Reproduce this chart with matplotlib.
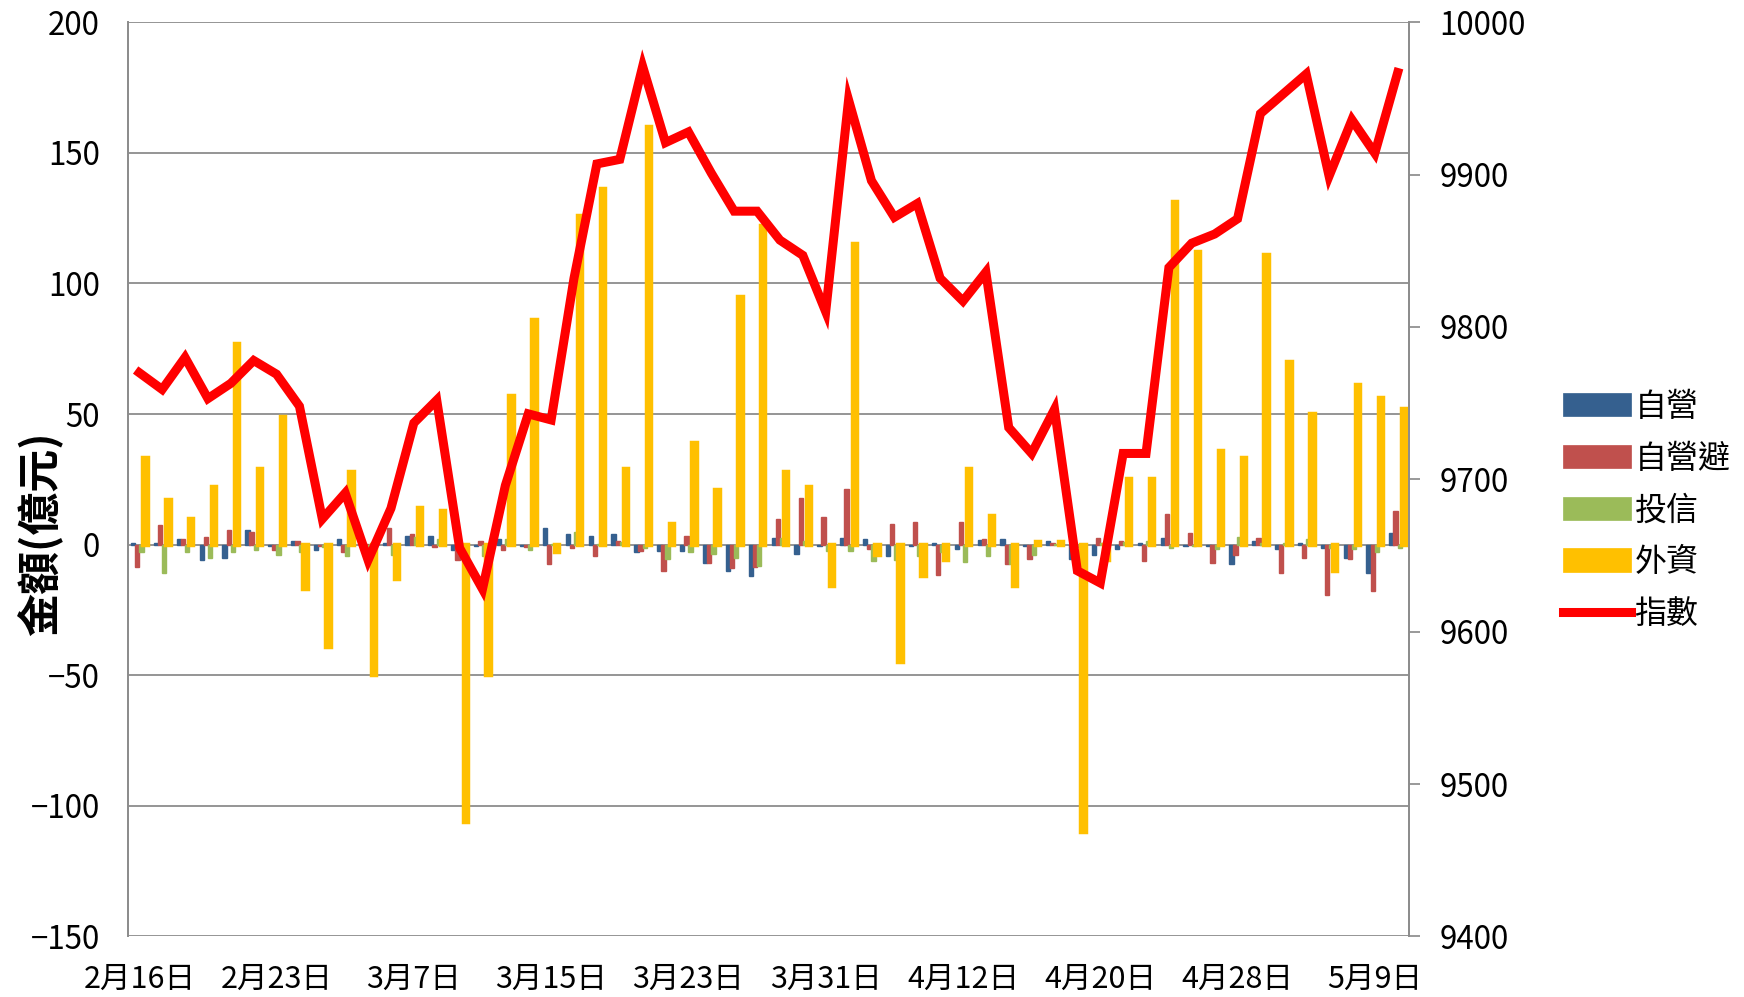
import matplotlib
matplotlib.use('Agg')
import matplotlib.pyplot as plt
import numpy as np

plt.rcParams['font.family'] = ['Noto Sans CJK TC', 'DejaVu Sans']

# trading days 2017/2/16 - 2017/5/10
dates = ['2月16日', '2月17日', '2月18日', '2月20日', '2月21日', '2月22日',
         '2月23日', '2月24日', '3月1日', '3月2日', '3月3日', '3月6日',
         '3月7日', '3月8日', '3月9日', '3月10日', '3月13日', '3月14日',
         '3月15日', '3月16日', '3月17日', '3月20日', '3月21日', '3月22日',
         '3月23日', '3月24日', '3月27日', '3月28日', '3月29日', '3月30日',
         '3月31日', '4月5日', '4月6日', '4月7日', '4月10日', '4月11日',
         '4月12日', '4月13日', '4月14日', '4月17日', '4月18日', '4月19日',
         '4月20日', '4月21日', '4月24日', '4月25日', '4月26日', '4月27日',
         '4月28日', '5月2日', '5月3日', '5月4日', '5月5日', '5月8日',
         '5月9日', '5月10日']

dealer = [0.5, 0.5, 2, -6, -5, 5.7, -0.5, 1.3, -2, 2, 0.3, 0.5, 3.3, 3.3,
          -2, -0.5, 2, -0.5, 6.4, 4, 3.3, 4, -3, -2.4, -2.4, -7, -10, -12,
          2.7, -3.7, -0.5, 2.7, 2, -4.3, -0.5, 0.6, -1.8, 1.7, 2, -0.5, 1.3,
          -5.6, -3.8, -1.8, 0.6, 2.7, -0.5, -0.5, -7.5, 1.3, -1.8, 0.6, -1.3,
          -5, -11, 4.5]
dealer_hedge = [-8.5, 7.4, 2, 3, 5.7, 5, -2, 1.3, -0.5, -3, 0.3, 6.4, 4, -1,
                -6, 1.3, -2, -1, -7.5, -1.3, -4.5, 1.3, -2.4, -10, 3.3, -7,
                -9, -8.5, 10, 18, 10.6, 21.4, -1.8, 8, 8.7, -11.7, 8.7, 2,
                -7.3, -5.6, 0.6, -1, 2.7, 1.3, -6.2, 11.9, 4.5, -7, -3.8, 2.7,
                -11, -5, -19.4, -5.6, -17.7, 13]
trust = [-3, -11, -3, -5, -3, -2, -4, -3, -1, -4.5, -2, -4, 3, 2, -4, -4.5,
         2, -2, 0.3, 5, 0.3, 1, -1.3, -5.6, -3, -3.7, -5, -8, 2.7, 1.3, -2.4,
         -2.4, -6.2, -6, -4.3, -3, -6.6, -4.3, -7.3, -3.8, 0.3, -1, 0.5, 1,
         1.3, -1.3, -0.5, -1.8, 3, 0.5, 0.5, 2, -1.3, -1.8, -3, -1.3]
foreign = [33, 17, 10, 22, 77, 29, 49, -17, -39, 28, -50, -13, 14, 13, -106,
           -50, 57, 86, -3, 126, 136, 29, 160, 8, 39, 21, 95, 122, 28, 22,
           -16, 115, -4, -45, -12, -6, 29, 11, -16, 1, 1, -110, -6, 25, 25,
           131, 112, 36, 33, 111, 70, 50, -10, 61, 56, 52]
index = [9770, 9759, 9780, 9753, 9763, 9778, 9769, 9748, 9674, 9691, 9647,
         9681, 9737, 9752, 9655, 9628, 9696, 9743, 9739, 9832, 9907, 9910,
         9971, 9921, 9928, 9901, 9876, 9876, 9857, 9847, 9810, 9949, 9896,
         9872, 9881, 9832, 9817, 9836, 9734, 9717, 9746, 9640, 9632, 9717,
         9717, 9839, 9855, 9861, 9871, 9940, 9953, 9966, 9899, 9936, 9914,
         9967]

names = ['自營', '自營避', '投信', '外資']
colors = ['#35608F', '#C0504D', '#9BBB59', '#FFC000']

x = np.arange(len(dates))
w = 0.19
offsets = [-0.27, -0.09, 0.09, 0.27]

fig = plt.figure(figsize=(17.44, 9.97), dpi=100)
ax = fig.add_axes([0.0733, 0.0607, 0.7347, 0.917])
ax2 = ax.twinx()

series = [dealer, dealer_hedge, trust, foreign]
for vals, off, c, n in zip(series, offsets, colors, names):
    lw = 3.2 if n == '外資' else 1.0
    ax.bar(x + off, vals, w, color=c, edgecolor=c, linewidth=lw, label=n, zorder=3)

ax2.plot(x, index, color='#FF0000', linewidth=6.5, solid_joinstyle='miter',
         label='指數', zorder=4)

ax.set_xlim(-0.5, len(dates) - 0.5)
ax.set_ylim(-150, 200)
ax.set_yticks(np.arange(-150, 201, 50))
ax2.set_ylim(9400, 10000)
ax2.set_yticks(np.arange(9400, 10001, 100))

ax.set_xticks(x[::6])
ax.set_xticklabels(dates[::6], fontsize=22)
ax.tick_params(axis='x', length=0, pad=20)
ax.tick_params(axis='y', length=0, pad=20, labelsize=22.5)
ax2.tick_params(axis='y', length=8, width=1.2, color='#888888', pad=14, labelsize=22.5)

ax.grid(axis='y', color='#8C8C8C', linewidth=1.3, zorder=0)
ax.set_axisbelow(True)
for a in (ax, ax2):
    for s in a.spines.values():
        s.set_color('#8C8C8C')
        s.set_linewidth(1.3)
    a.spines['top'].set_visible(False)
    a.spines['bottom'].set_visible(False)

ax.set_ylabel('金額(億元)', fontsize=31, fontweight='bold')
ax.yaxis.set_label_coords(-0.05, 0.44)

h1, l1 = ax.get_legend_handles_labels()
h2, l2 = ax2.get_legend_handles_labels()
leg = fig.legend(h1 + h2, l1 + l2, loc='center left', bbox_to_anchor=(0.896, 0.488),
                 frameon=False, fontsize=23, handlelength=2.15, handleheight=0.75,
                 labelspacing=0.62, handletextpad=0.1, borderpad=0, borderaxespad=0)
for p in leg.get_patches():
    p.set_linewidth(0.5)

fig.savefig('out.png', dpi=100)
